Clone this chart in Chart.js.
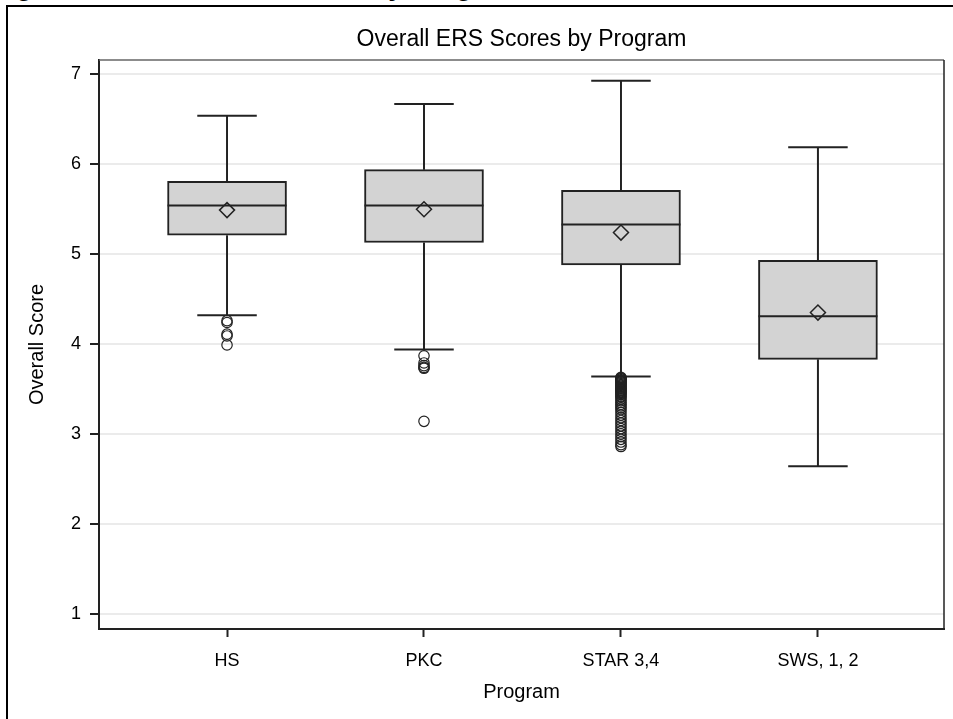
<!DOCTYPE html>
<html>
<head>
<meta charset="utf-8">
<script src="https://cdn.jsdelivr.net/npm/chart.js@4.4.1/dist/chart.umd.min.js"></script>
<style>
html, body { margin: 0; padding: 0; background: #fff; overflow: hidden; }
body { width: 953px; height: 719px; position: relative; font-family: "Liberation Sans", Arial, sans-serif; }
#caption { position: absolute; left: -8px; top: -27px; font-weight: bold; font-size: 27px; line-height: 27px; white-space: nowrap; color: #000; }
#frame { position: absolute; left: 6px; top: 5px; width: 1200px; height: 1000px; border: 2px solid #000; background: #fff; }
canvas { position: absolute; left: 0; top: 0; }
</style>
</head>
<body>
<div id="caption">Figure 4. Overall ERS Scores by Program</div>
<div id="frame"></div>
<canvas id="chart" width="953" height="719"></canvas>
<script>
const programs = ["HS", "PKC", "STAR 3,4", "SWS, 1, 2"];
const yTickValues = [1, 2, 3, 4, 5, 6, 7];

// box plot statistics
const lowerWhisker = [4.32, 3.94, 3.64, 2.64];
const q1 = [5.21, 5.13, 4.88, 3.83];
const medians = [5.54, 5.54, 5.33, 4.31];
const q3 = [5.81, 5.94, 5.71, 4.93];
const upperWhisker = [6.54, 6.67, 6.93, 6.19];
const means = [5.49, 5.50, 5.24, 4.35];

const hsOutliers = [4.26, 4.24, 4.11, 4.09, 3.99];
const pkcOutliers = [3.87, 3.79, 3.76, 3.74, 3.73, 3.14];
const starOutliers = [3.63, 3.62, 3.62, 3.61, 3.60, 3.60, 3.59, 3.58, 3.58, 3.57,
    3.56, 3.55, 3.54, 3.53, 3.52, 3.51, 3.50, 3.49, 3.48, 3.47,
    3.46, 3.45, 3.44, 3.42, 3.41, 3.39, 3.37, 3.35, 3.33, 3.31,
    3.29, 3.27, 3.24, 3.21, 3.18, 3.15, 3.12, 3.09, 3.06, 3.03,
    3.00, 2.97, 2.94, 2.91, 2.88, 2.86];
const swsOutliers = [];

const outlierLists = [hsOutliers, pkcOutliers, starOutliers, swsOutliers];
const ink = "#222";

const boxData = programs.map((p, i) => ({ x: i + 1, y: [q1[i], q3[i]] }));
const meanData = programs.map((p, i) => ({ x: i + 1, y: means[i] }));
const outlierData = [];
outlierLists.forEach((list, i) => list.forEach(v => outlierData.push({ x: i + 1, y: v })));

// whiskers, caps and median lines, drawn right after the boxes
const boxLines = {
    id: "boxLines",
    afterDatasetDraw(chart, args) {
        if (args.index !== 0) return;
        const xs = chart.scales.x, ys = chart.scales.y, ctx = chart.ctx;
        ctx.save();
        ctx.strokeStyle = ink;
        ctx.lineWidth = 2;
        args.meta.data.forEach((bar, i) => {
            const cx = xs.getPixelForValue(i + 1);
            const half = bar.width / 2;
            const cap = half / 2;
            const seg = (x1, y1, x2, y2) => {
                ctx.beginPath(); ctx.moveTo(x1, y1); ctx.lineTo(x2, y2); ctx.stroke();
            };
            const yHi = ys.getPixelForValue(upperWhisker[i]);
            const yLo = ys.getPixelForValue(lowerWhisker[i]);
            seg(cx, ys.getPixelForValue(q3[i]), cx, yHi);
            seg(cx, ys.getPixelForValue(q1[i]), cx, yLo);
            seg(cx - cap, yHi, cx + cap, yHi);
            seg(cx - cap, yLo, cx + cap, yLo);
            const ym = ys.getPixelForValue(medians[i]);
            seg(cx - half, ym, cx + half, ym);
        });
        ctx.restore();
    }
};

// top and right edges of the plot frame
const plotFrame = {
    id: "plotFrame",
    afterDraw(chart) {
        const a = chart.chartArea, ctx = chart.ctx;
        ctx.save();
        ctx.lineWidth = 1.5;
        ctx.strokeStyle = "#666";
        ctx.beginPath();
        ctx.moveTo(a.left, a.top);
        ctx.lineTo(a.right, a.top);
        ctx.stroke();
        ctx.strokeStyle = "#222";
        ctx.beginPath();
        ctx.moveTo(a.right, a.top);
        ctx.lineTo(a.right, a.bottom);
        ctx.stroke();
        ctx.restore();
    }
};

const font = "'Liberation Sans', Arial, sans-serif";

new Chart(document.getElementById("chart"), {
    type: "bar",
    data: {
        datasets: [
            {
                type: "bar",
                data: boxData,
                backgroundColor: "#d3d3d3",
                borderColor: ink,
                borderWidth: 2,
                borderSkipped: false,
                barThickness: 119,
                order: 3
            },
            {
                type: "scatter",
                data: outlierData,
                pointStyle: "circle",
                pointRadius: 5.2,
                pointBorderWidth: 1.2,
                pointBorderColor: "#222",
                pointBackgroundColor: "rgba(0,0,0,0)",
                order: 2
            },
            {
                type: "scatter",
                data: meanData,
                pointStyle: "rectRot",
                pointRadius: 7.5,
                pointBorderWidth: 1.5,
                pointBorderColor: ink,
                pointBackgroundColor: "rgba(0,0,0,0)",
                order: 1
            }
        ]
    },
    options: {
        responsive: false,
        animation: false,
        layout: { padding: { left: 8, right: 8, top: 0, bottom: 0 } },
        plugins: {
            legend: { display: false },
            tooltip: { enabled: false },
            title: {
                display: true,
                fullSize: false,
                text: "Overall ERS Scores by Program",
                color: "#000",
                font: { family: font, size: 23, weight: "normal" },
                padding: { top: 26, bottom: 6.4 }
            }
        },
        scales: {
            x: {
                type: "linear",
                min: 0.35,
                max: 4.64,
                offset: false,
                afterBuildTicks: s => { s.ticks = programs.map((p, i) => ({ value: i + 1 })); },
                afterFit: s => { s.height = 90; },
                ticks: {
                    autoSkip: false,
                    maxRotation: 0,
                    padding: 13,
                    color: "#000",
                    font: { family: font, size: 18 },
                    callback: v => programs[v - 1]
                },
                grid: { offset: false, drawOnChartArea: false, drawTicks: true, tickLength: 8, tickColor: ink, tickWidth: 2 },
                border: { display: true, color: ink, width: 2 },
                title: {
                    display: true,
                    text: "Program",
                    color: "#000",
                    font: { family: font, size: 20 },
                    padding: { top: 0, bottom: 15 }
                }
            },
            y: {
                type: "linear",
                min: 0.83,
                max: 7.16,
                afterBuildTicks: s => { s.ticks = yTickValues.map(v => ({ value: v })); },
                afterFit: s => { s.width = 91; },
                ticks: {
                    padding: 9,
                    color: "#000",
                    font: { family: font, size: 18 }
                },
                grid: { color: "#ebebeb", lineWidth: 2, drawTicks: true, tickLength: 9, tickColor: ink, tickWidth: 2 },
                border: { display: true, color: ink, width: 2 },
                title: {
                    display: true,
                    text: "Overall Score",
                    color: "#000",
                    font: { family: font, size: 20 },
                    padding: { top: 17, bottom: 0 }
                }
            }
        }
    },
    plugins: [boxLines, plotFrame]
});
</script>
</body>
</html>
